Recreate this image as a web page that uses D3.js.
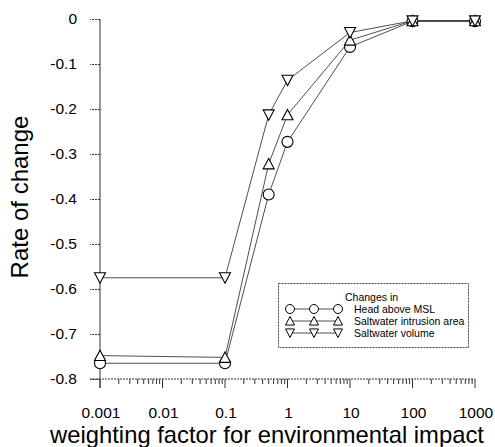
<!DOCTYPE html>
<html>
<head>
  <meta charset="utf-8">
  <script src="https://cdn.jsdelivr.net/npm/d3@7"></script>
  <style>
    body { margin: 0; background: #fff; }
    svg { font-family: Arial, "Liberation Sans", sans-serif; }
    .axis path, .axis line { stroke: #333; stroke-width: 1; }
    .axis text { fill: #000; font-size: 15.5px; }
  </style>
</head>
<body>
  <svg id="chart" width="495" height="447"></svg>
  <script>
    // weighting factors (x) and rates of change for each series
    var weights = [0.001, 0.1, 0.5, 1, 10, 100, 1000];
    var headMSL = [-0.765, -0.765, -0.39, -0.273, -0.062, -0.005, -0.005];
    var intrusionArea = [-0.748, -0.752, -0.322, -0.213, -0.047, -0.004, -0.004];
    var saltVolume = [-0.575, -0.575, -0.213, -0.136, -0.03, -0.004, -0.004];
    var yTicks = [0, -0.1, -0.2, -0.3, -0.4, -0.5, -0.6, -0.7, -0.8];
    var xTicks = [0.001, 0.01, 0.1, 1, 10, 100, 1000];
    var xTickLabels = ['0.001', '0.01', '0.1', '1', '10', '100', '1000'];
    var seriesNames = ['Head above MSL', 'Saltwater intrusion area', 'Saltwater volume'];

    var series = [
      { name: seriesNames[0], values: headMSL, shape: 'circle' },
      { name: seriesNames[1], values: intrusionArea, shape: 'up' },
      { name: seriesNames[2], values: saltVolume, shape: 'down' }
    ];

    var svg = d3.select('#chart');

    var x = d3.scaleLog().domain([0.001, 1000]).range([100, 475]);
    var y = d3.scaleLinear().domain([-0.8, 0]).range([379, 19]);

    // minor log ticks
    var minor = [];
    for (var e = -3; e < 3; e++) {
      for (var m = 2; m <= 9; m++) minor.push(m * Math.pow(10, e));
    }

    var xAxis = svg.append('g')
      .attr('class', 'axis')
      .attr('transform', 'translate(0,379)');
    xAxis.append('line')
      .attr('x1', 90).attr('x2', x(1000))
      .attr('stroke', '#444').attr('stroke-dasharray', '2,1');
    xAxis.selectAll('.minor').data(minor).enter().append('line')
      .attr('class', 'minor')
      .attr('x1', d => x(d)).attr('x2', d => x(d))
      .attr('y1', 0).attr('y2', 5);
    xAxis.selectAll('.major').data(xTicks).enter().append('line')
      .attr('class', 'major')
      .attr('x1', d => x(d)).attr('x2', d => x(d))
      .attr('y1', 0).attr('y2', 9);
    xAxis.selectAll('text').data(xTicks).enter().append('text')
      .attr('x', d => x(d) + 1)
      .attr('y', 39)
      .attr('text-anchor', 'middle')
      .text((d, i) => xTickLabels[i]);

    var yAxis = d3.axisLeft(y)
      .tickValues(yTicks)
      .tickSize(10)
      .tickSizeOuter(0)
      .tickPadding(13)
      .tickFormat(d => d === 0 ? '0' : d.toFixed(1));

    svg.append('g')
      .attr('class', 'axis')
      .attr('transform', 'translate(100,0)')
      .call(yAxis)
      .call(g => g.select('.domain').remove())
      .call(g => g.selectAll('.tick line').attr('stroke-dasharray', '2,1'));

    svg.append('line')
      .attr('x1', 100).attr('x2', 100)
      .attr('y1', y(0)).attr('y2', 388)
      .attr('stroke', '#333');

    // series lines
    var line = d3.line()
      .x((d, i) => x(weights[i]))
      .y(d => y(d));

    svg.selectAll('.series')
      .data(series)
      .enter().append('path')
      .attr('class', 'series')
      .attr('d', d => line(d.values))
      .attr('fill', 'none')
      .attr('stroke', '#222')
      .attr('stroke-width', 0.8);

    function markerPath(shape, s) {
      if (shape === 'circle') return d3.symbol().type(d3.symbolCircle).size(Math.PI * s * s / 4)();
      var h = s * 0.45;
      if (shape === 'up') return 'M0,' + (-h * 1.1) + 'L' + (s / 2) + ',' + h + 'L' + (-s / 2) + ',' + h + 'Z';
      return 'M0,' + (h * 1.1) + 'L' + (s / 2) + ',' + (-h) + 'L' + (-s / 2) + ',' + (-h) + 'Z';
    }

    series.forEach(function (s) {
      svg.selectAll('.m-' + s.shape)
        .data(s.values)
        .enter().append('path')
        .attr('transform', (d, i) => 'translate(' + x(weights[i]) + ',' + y(d) + ')')
        .attr('d', markerPath(s.shape, 11))
        .attr('fill', 'white')
        .attr('stroke', '#000')
        .attr('stroke-width', 1.1);
    });

    // legend
    var lg = svg.append('g');
    lg.append('rect')
      .attr('x', 278.5).attr('y', 283.5)
      .attr('width', 190).attr('height', 64)
      .attr('fill', 'white')
      .attr('stroke', '#444')
      .attr('stroke-dasharray', '2,1');
    lg.append('text')
      .attr('x', 345).attr('y', 301)
      .attr('font-size', '10.5px')
      .text('Changes in');
    var lx = [290, 314, 338];
    series.forEach(function (s, k) {
      var ly = 309 + k * 12;
      lg.append('line')
        .attr('x1', lx[0]).attr('x2', lx[2])
        .attr('y1', ly).attr('y2', ly)
        .attr('stroke', '#222').attr('stroke-width', 0.8);
      lx.forEach(function (px) {
        lg.append('path')
          .attr('transform', 'translate(' + px + ',' + ly + ')')
          .attr('d', markerPath(s.shape, 9))
          .attr('fill', 'white')
          .attr('stroke', '#000')
          .attr('stroke-width', 1);
      });
      lg.append('text')
        .attr('x', 354).attr('y', ly + 4)
        .attr('font-size', '10.5px')
        .text(s.name);
    });

    // axis titles
    svg.append('text')
      .attr('x', 267).attr('y', 443)
      .attr('text-anchor', 'middle')
      .attr('font-size', '23.8px')
      .text('weighting factor for environmental impact');

    svg.append('text')
      .attr('transform', 'translate(28,197) rotate(-90)')
      .attr('text-anchor', 'middle')
      .attr('font-size', '24px')
      .text('Rate of change');
  </script>
</body>
</html>
